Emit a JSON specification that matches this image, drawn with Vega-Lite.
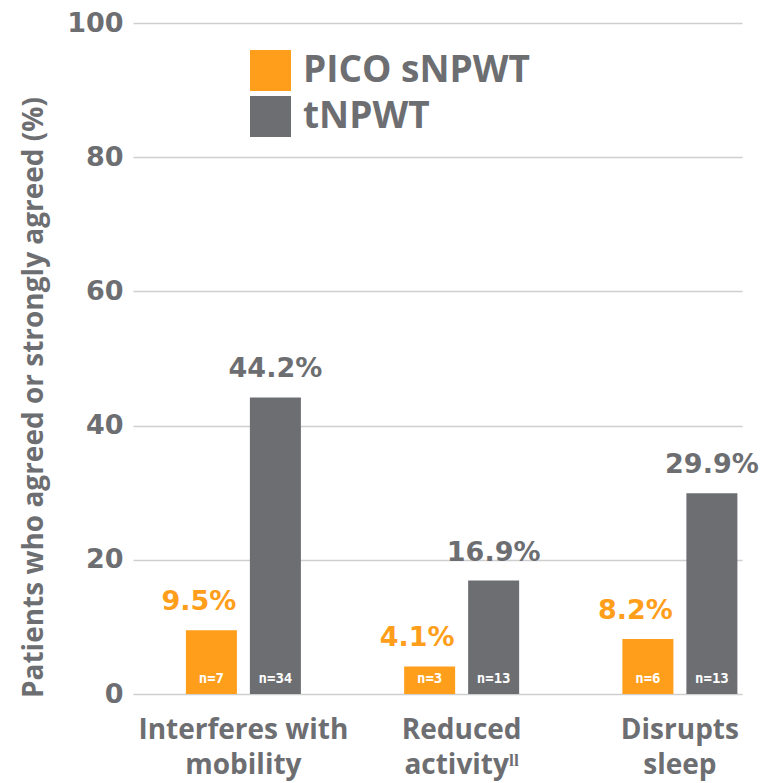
{
  "$schema": "https://vega.github.io/schema/vega-lite/v6.json",
  "width": 609,
  "height": 671,
  "autosize": {"type": "none"},
  "padding": {"left": 133, "top": 23, "right": 20, "bottom": 89},
  "background": "white",
  "config": {
    "view": {"stroke": null},
    "font": "Open Sans"
  },
  "data": {
    "values": [
      {"category": "Interferes with|mobility", "group": "PICO sNPWT", "value": 9.5, "label": "9.5%", "n": "n=7"},
      {"category": "Interferes with|mobility", "group": "tNPWT", "value": 44.2, "label": "44.2%", "n": "n=34"},
      {"category": "Reduced|activityˡˡ", "group": "PICO sNPWT", "value": 4.1, "label": "4.1%", "n": "n=3"},
      {"category": "Reduced|activityˡˡ", "group": "tNPWT", "value": 16.9, "label": "16.9%", "n": "n=13"},
      {"category": "Disrupts|sleep", "group": "PICO sNPWT", "value": 8.2, "label": "8.2%", "n": "n=6"},
      {"category": "Disrupts|sleep", "group": "tNPWT", "value": 29.9, "label": "29.9%", "n": "n=13"}
    ]
  },
  "encoding": {
    "x": {
      "field": "category",
      "type": "nominal",
      "sort": null,
      "scale": {"paddingInner": 0.473, "paddingOuter": 0.1317, "align": 0.92},
      "axis": {
        "title": null,
        "domain": false,
        "ticks": false,
        "labelAngle": 0,
        "labelExpr": "split(datum.label, '|')",
        "labelFont": "Open Sans",
        "labelFontWeight": "bold",
        "labelFontSize": 28,
        "labelColor": "#6d6e71",
        "labelLineHeight": 35,
        "labelLimit": 0,
        "labelPadding": 44,
        "labelBaseline": "alphabetic"
      }
    },
    "xOffset": {
      "field": "group",
      "type": "nominal",
      "sort": ["PICO sNPWT", "tNPWT"],
      "scale": {"paddingInner": 0.203, "paddingOuter": 0}
    }
  },
  "layer": [
    {
      "mark": {"type": "bar"},
      "encoding": {
        "y": {
          "field": "value",
          "type": "quantitative",
          "scale": {"domain": [0, 100], "nice": false},
          "axis": {
            "values": [0, 20, 40, 60, 80, 100],
            "title": "Patients who agreed or strongly agreed (%)",
            "titleFont": "Open Sans",
            "titleFontWeight": "bold",
            "titleFontSize": 28,
            "titleColor": "#6d6e71",
            "titleX": -91,
            "titleY": 374,
            "titleAngle": 270,
            "titleAlign": "center",
            "titleBaseline": "alphabetic",
            "domain": false,
            "ticks": false,
            "labelFont": "DejaVu Sans",
            "labelFontWeight": "bold",
            "labelFontSize": 27,
            "labelColor": "#6d6e71",
            "labelPadding": 10,
            "gridColor": "#cfcfcf",
            "gridWidth": 1.5
          }
        },
        "color": {
          "field": "group",
          "type": "nominal",
          "sort": ["PICO sNPWT", "tNPWT"],
          "scale": {"domain": ["PICO sNPWT", "tNPWT"], "range": ["#ff9e1b", "#6d6e72"]},
          "legend": {
            "title": null,
            "orient": "none",
            "legendX": 117,
            "legendY": 27,
            "symbolType": "square",
            "symbolSize": 1681,
            "symbolStrokeWidth": 0,
            "symbolOpacity": 1,
            "labelFont": "Open Sans",
            "labelFontWeight": "bold",
            "labelFontSize": 37,
            "labelColor": "#6d6e71",
            "labelOffset": 12,
            "labelLimit": 0,
            "rowPadding": 5
          }
        }
      }
    },
    {
      "transform": [{"filter": "datum.group === 'PICO sNPWT'"}],
      "mark": {"type": "text", "align": "right", "baseline": "alphabetic", "dx": 25, "dy": -20, "font": "DejaVu Sans", "fontWeight": "bold", "fontSize": 27, "color": "#ff9e1b"},
      "encoding": {
        "y": {"field": "value", "type": "quantitative"},
        "text": {"field": "label"}
      }
    },
    {
      "transform": [{"filter": "datum.group === 'tNPWT'"}],
      "mark": {"type": "text", "align": "center", "baseline": "alphabetic", "dy": -20, "font": "DejaVu Sans", "fontWeight": "bold", "fontSize": 27, "color": "#6d6e71"},
      "encoding": {
        "y": {"field": "value", "type": "quantitative"},
        "text": {"field": "label"}
      }
    },
    {
      "mark": {"type": "text", "align": "center", "baseline": "alphabetic", "dy": -11, "font": "DejaVu Sans Mono", "fontWeight": "bold", "fontSize": 14, "color": "white"},
      "encoding": {
        "y": {"datum": 0, "type": "quantitative"},
        "text": {"field": "n"}
      }
    }
  ]
}
